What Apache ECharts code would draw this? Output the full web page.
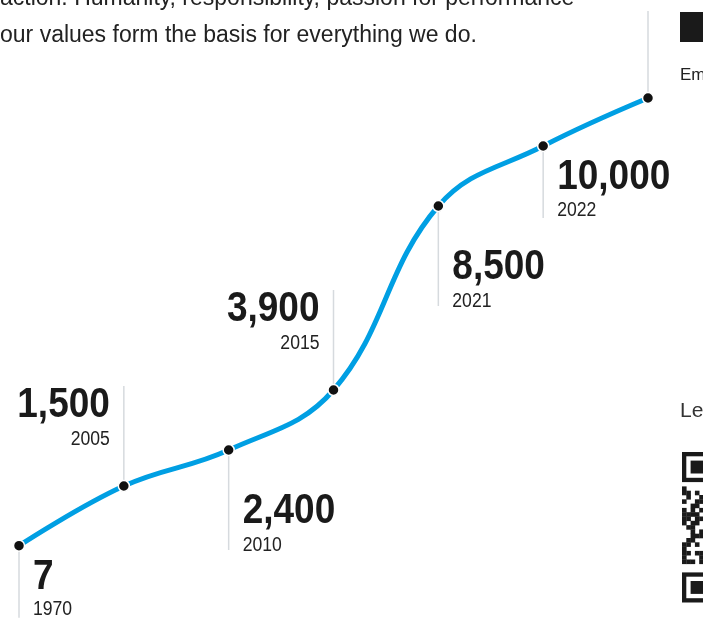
<!DOCTYPE html>
<html>
<head>
<meta charset="utf-8">
<script src="https://cdn.jsdelivr.net/npm/echarts@6/dist/echarts.min.js"></script>
<style>
html,body{margin:0;padding:0;background:#fff;}
#chart{width:703px;height:618px;}
</style>
</head>
<body>
<div id="chart"></div>
<script>
// ---- data ----
const years = ['1970', '2005', '2010', '2015', '2021', '2022', '2023'];
const employees = [7, 1500, 2400, 3900, 8500, 10000, 11200];
const showLabel = [true, true, true, true, true, true, false];
// ---- annotation placement (style only) ----
const placements = ['near', 'up', 'down', 'up', 'down', 'near', 'top'];

const NUM_FONT = 'bold 43px "Liberation Sans", Arial, sans-serif';
const YEAR_FONT = '20px "Liberation Sans", Arial, sans-serif';
const LINE_COLOR = '#d6dade';

function renderAnno(params, api) {
  const i = params.dataIndex;
  const p = api.coord([api.value(0), api.value(1)]);
  const px = p[0], py = p[1];
  const kind = placements[i];
  const children = [];
  let y1, y2;
  if (kind === 'near') { y1 = py; y2 = py + 72; }
  else if (kind === 'down') { y1 = py; y2 = py + 100; }
  else if (kind === 'up') { y1 = py - 100; y2 = py; }
  else { y1 = py - 87; y2 = py; }
  children.push({
    type: 'line',
    shape: { x1: px, y1: y1, x2: px, y2: y2 },
    style: { stroke: LINE_COLOR, lineWidth: 1.5 }
  });
  if (showLabel[i]) {
    const numText = employees[i].toLocaleString('en-US');
    let nx, ny, yy, align;
    if (kind === 'near') { nx = px + 14; ny = py + 16; yy = py + 57; align = 'left'; }
    else if (kind === 'down') { nx = px + 14; ny = py + 46; yy = py + 88; align = 'left'; }
    else { nx = px - 14; ny = py - 96; yy = py - 54; align = 'right'; }
    children.push({
      type: 'text', x: nx, y: ny - 6, scaleX: 0.86,
      style: { text: numText, x: 0, y: 0, font: NUM_FONT, fill: '#1a1a1a', align: align, verticalAlign: 'top' }
    });
    children.push({
      type: 'text', x: nx, y: yy - 3, scaleX: 0.88,
      style: { text: years[i], x: 0, y: 0, font: YEAR_FONT, fill: '#222', align: align, verticalAlign: 'top' }
    });
  }
  return { type: 'group', children: children };
}

// QR code decoration pattern (5 visible columns)
const qrMid = [
  '10000','11010','01001','10011','00110','10101','11110','11011','10110',
  '01100','00101','00111','01100','11010','10000','11011','10001','11101','00000'
];
function qrElements() {
  const m = 4.3, x0 = 682, y0 = 452;
  const els = [];
  function finder(top) {
    els.push({ type: 'rect', shape: { x: x0, y: top, width: 7 * m, height: 7 * m }, style: { fill: '#1a1a1a' } });
    els.push({ type: 'rect', shape: { x: x0 + m, y: top + m, width: 5 * m, height: 5 * m }, style: { fill: '#fff' } });
    els.push({ type: 'rect', shape: { x: x0 + 2 * m, y: top + 2 * m, width: 3 * m, height: 3 * m }, style: { fill: '#1a1a1a' } });
  }
  finder(y0);
  finder(y0 + 28 * m);
  qrMid.forEach((row, r) => {
    for (let c = 0; c < row.length; c++) {
      if (row[c] === '1') {
        els.push({ type: 'rect', shape: { x: x0 + c * m, y: y0 + (8 + r) * m, width: m + 0.3, height: m + 0.3 }, style: { fill: '#1a1a1a' } });
      }
    }
  });
  return els;
}

const chart = echarts.init(document.getElementById('chart'), null, { renderer: 'canvas' });
const TEXT_FONT_FAMILY = '"Liberation Sans", Arial, sans-serif';
chart.setOption({
  animation: false,
  grid: { left: 19, right: 55, top: 66, bottom: 72 },
  xAxis: {
    type: 'category', data: years, boundaryGap: false,
    show: false
  },
  yAxis: { type: 'value', min: 0, max: 12000, show: false },
  graphic: [
    { type: 'text', left: 0, top: -13, style: { text: 'action. Humanity, responsibility, passion for performance', font: '23px ' + TEXT_FONT_FAMILY, fill: '#222' } },
    { type: 'text', left: 0, top: 24, style: { text: 'our values form the basis for everything we do.', font: '23px ' + TEXT_FONT_FAMILY, fill: '#222' } },
    { type: 'rect', shape: { x: 680, y: 12, width: 30, height: 30 }, style: { fill: '#1a1a1a' } },
    { type: 'text', x: 680, y: 67, style: { text: 'Employees', font: '17px ' + TEXT_FONT_FAMILY, fill: '#222' } },
    { type: 'text', x: 680, y: 401, style: { text: 'Learn more', font: '21px ' + TEXT_FONT_FAMILY, fill: '#333' } },
    { type: 'group', children: qrElements() }
  ],
  series: [
    {
      type: 'custom',
      data: employees.map((v, i) => [i, v]),
      renderItem: renderAnno,
      z: 1,
      silent: true
    },
    {
      type: 'line',
      data: employees,
      smooth: 0.4,
      z: 3,
      symbol: 'circle',
      symbolSize: 11,
      showSymbol: true,
      lineStyle: { color: '#009fe3', width: 5 },
      itemStyle: { color: '#111', borderColor: '#fff', borderWidth: 1.5 }
    }
  ]
});
</script>
</body>
</html>
